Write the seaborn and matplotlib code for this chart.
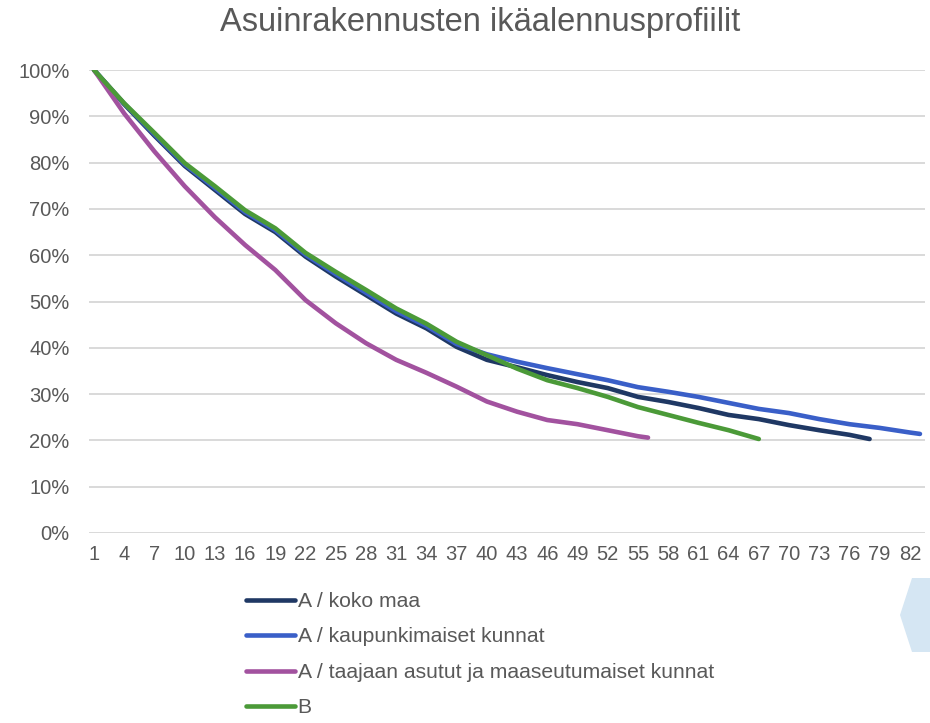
import matplotlib
matplotlib.use("Agg")
import matplotlib.pyplot as plt
import matplotlib.patches as mpatches
import numpy as np
import pandas as pd
import seaborn as sns

# Age (years) at which each profile value was read
ika_koko = [1, 4, 7, 10, 13, 16, 19, 22, 25, 28, 31, 34, 37, 40, 43, 46, 49, 52, 55,
            58, 61, 64, 67, 70, 73, 76, 78]
koko_maa = [100, 92.6, 85.8, 79.3, 74.1, 68.9, 65.0, 59.7, 55.4, 51.4, 47.4, 44.2, 40.2, 37.4,
            35.8, 34.1, 32.6, 31.3, 29.4, 28.3, 27.0, 25.5, 24.6, 23.3, 22.2, 21.2, 20.3]

ika_kaup = [1, 4, 7, 10, 13, 16, 19, 22, 25, 28, 31, 34, 37, 40, 43, 46, 49, 52, 55,
            58, 61, 64, 67, 70, 73, 76, 79, 82, 83]
kaupunki = [100, 92.7, 86.1, 79.6, 74.5, 69.3, 65.4, 60.1, 55.9, 51.9, 47.9, 44.7, 40.8, 38.6,
            37.0, 35.6, 34.3, 33.0, 31.5, 30.5, 29.4, 28.1, 26.8, 25.9, 24.6, 23.5, 22.7, 21.7, 21.4]

ika_taaj = [1, 4, 7, 10, 13, 16, 19, 22, 25, 28, 31, 34, 37, 40, 43, 46, 49, 52, 55, 56]
taajaan = [100, 90.6, 82.4, 74.9, 68.2, 62.2, 56.8, 50.3, 45.3, 41.0, 37.4, 34.6, 31.6, 28.4,
           26.2, 24.4, 23.5, 22.2, 20.9, 20.6]

ika_b = [1, 4, 7, 10, 13, 16, 19, 22, 25, 28, 31, 34, 37, 40, 43, 46, 49, 52, 55,
         58, 61, 64, 67]
profiili_b = [100, 92.8, 86.4, 79.9, 74.9, 69.7, 65.8, 60.5, 56.4, 52.5, 48.5, 45.2, 41.3, 38.4,
              35.5, 33.0, 31.3, 29.4, 27.2, 25.5, 23.8, 22.2, 20.3]

sarjat = ["A / koko maa", "A / kaupunkimaiset kunnat",
          "A / taajaan asutut ja maaseutumaiset kunnat", "B"]
varit = ["#1f3864", "#3a5fc8", "#a2529f", "#4b9a38"]

df = pd.concat([
    pd.DataFrame({"ika": ika_koko, "arvo": koko_maa, "sarja": sarjat[0]}),
    pd.DataFrame({"ika": ika_kaup, "arvo": kaupunki, "sarja": sarjat[1]}),
    pd.DataFrame({"ika": ika_taaj, "arvo": taajaan, "sarja": sarjat[2]}),
    pd.DataFrame({"ika": ika_b, "arvo": profiili_b, "sarja": sarjat[3]}),
])

sns.set_theme(style="white")
plt.rcParams["font.family"] = ["Liberation Sans", "DejaVu Sans"]
harmaa = "#595959"

fig = plt.figure(figsize=(9.3, 7.23), dpi=100)
ax = fig.add_axes([89 / 930, 1 - 533 / 723, (925 - 89) / 930, (533 - 70) / 723])

sns.lineplot(data=df, x="ika", y="arvo", hue="sarja", hue_order=sarjat,
             palette=varit, estimator=None, linewidth=3.3, ax=ax,
             solid_capstyle="round", solid_joinstyle="round", legend=False)

ax.set_xlim(0.5, 83.5)
ax.set_ylim(0, 100)
ax.set_yticks(np.arange(0, 101, 10))
ax.set_yticklabels([f"{v}%" for v in range(0, 101, 10)])
ax.set_xticks(np.arange(1, 84, 3))
ax.set_xticklabels([str(v) for v in range(1, 84, 3)])
ax.tick_params(axis="both", length=0, labelsize=14.5, colors=harmaa)
ax.tick_params(axis="y", pad=14)
ax.tick_params(axis="x", pad=9)
ax.grid(axis="y", color="#d9d9d9", linewidth=1.4)
ax.set_axisbelow(True)
for s in ax.spines.values():
    s.set_visible(False)
ax.set_xlabel("")
ax.set_ylabel("")

fig.text(480 / 930, 1 - 23 / 723, "Asuinrakennusten ikäalennusprofiilit",
         ha="center", va="center", fontsize=23.5, color=harmaa)

kahvat = [plt.Line2D([], [], color=c, linewidth=3.3, solid_capstyle="round") for c in varit]
fig.legend(kahvat, sarjat, loc="upper left", bbox_to_anchor=(246 / 930, 1 - 592 / 723),
           frameon=False, fontsize=15.2, handlelength=2.3, handletextpad=0.15,
           labelspacing=0.78, borderpad=0, borderaxespad=0, labelcolor=harmaa)

# decorative hexagon fragment on the right edge
kuusikulmio = mpatches.Polygon([(912 / 930, 1 - 578 / 723), (935 / 930, 1 - 578 / 723),
                                (935 / 930, 1 - 652 / 723), (912 / 930, 1 - 652 / 723),
                                (900 / 930, 1 - 615 / 723)],
                               closed=True, transform=fig.transFigure,
                               facecolor="#d5e6f3", edgecolor="none")
fig.patches.append(kuusikulmio)

fig.savefig("out.png", dpi=100)
